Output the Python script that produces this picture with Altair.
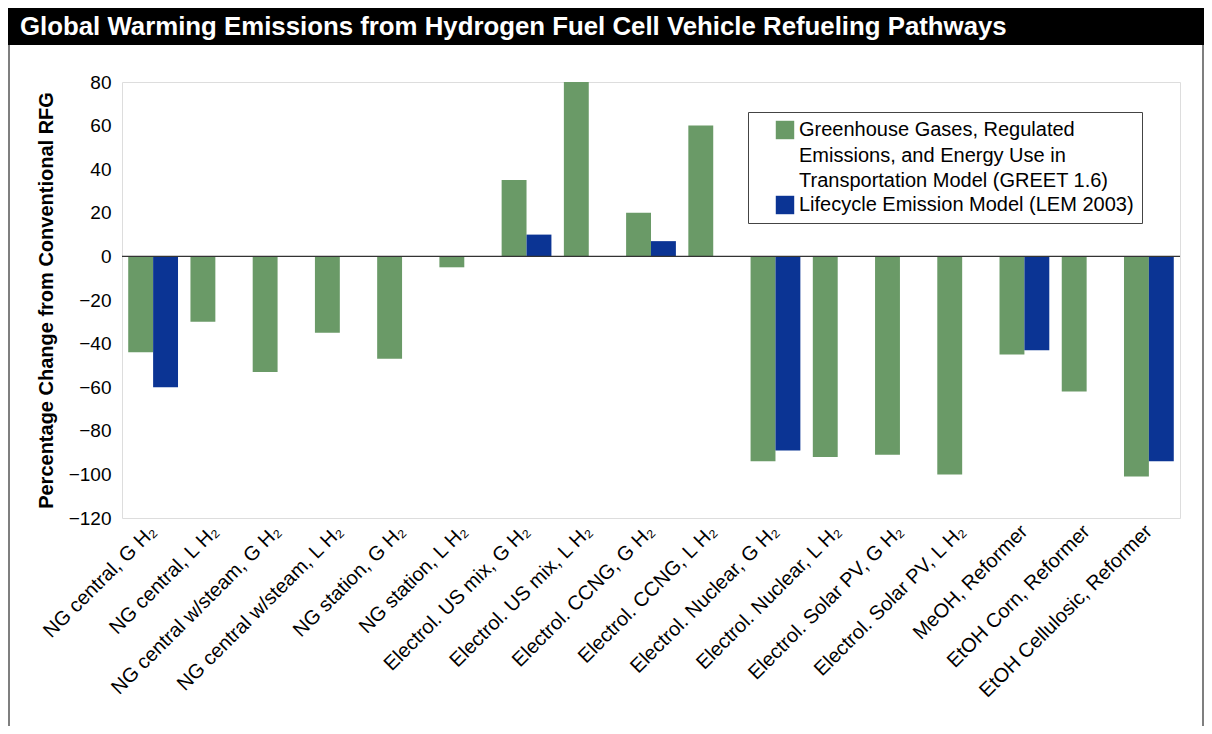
import altair as alt
import pandas as pd

TITLE = "Global Warming Emissions from Hydrogen Fuel Cell Vehicle Refueling Pathways"
Y_TITLE = "Percentage Change from Conventional RFG"

categories = [
    "NG central, G H₂",
    "NG central, L H₂",
    "NG central w/steam, G H₂",
    "NG central w/steam, L H₂",
    "NG station, G H₂",
    "NG station, L H₂",
    "Electrol. US mix, G H₂",
    "Electrol. US mix, L H₂",
    "Electrol. CCNG, G H₂",
    "Electrol. CCNG, L H₂",
    "Electrol. Nuclear, G H₂",
    "Electrol. Nuclear, L H₂",
    "Electrol. Solar PV, G H₂",
    "Electrol. Solar PV, L H₂",
    "MeOH, Reformer",
    "EtOH Corn, Reformer",
    "EtOH Cellulosic, Reformer",
]
greet = [-44, -30, -53, -35, -47, -5, 35, 80, 20, 60, -94, -92, -91, -100, -45, -62, -101]
lem = [-60, None, None, None, None, None, 10, None, 7, None, -89, None, None, None, -43, None, -94]

series_names = [
    "Greenhouse Gases, Regulated|Emissions, and Energy Use in|Transportation Model (GREET 1.6)",
    "Lifecycle Emission Model (LEM 2003)",
]
series_colors = ["#6a9a67", "#0b3494"]
y_ticks = [-120, -100, -80, -60, -40, -20, 0, 20, 40, 60, 80]

rows = []
for c, g, l in zip(categories, greet, lem):
    rows.append({"cat": c, "series": series_names[0], "value": g})
    if l is not None:
        rows.append({"cat": c, "series": series_names[1], "value": l})
df = pd.DataFrame(rows)

FONT = "Liberation Sans"

bars = alt.Chart(df).mark_bar().encode(
    x=alt.X(
        "cat:N",
        sort=categories,
        scale=alt.Scale(paddingInner=0.2, paddingOuter=0.1),
        axis=alt.Axis(
            title=None, labelAngle=-45, labelAlign="right", labelBaseline="middle",
            labelFontSize=20, labelFont=FONT, labelColor="black", labelLimit=0,
            labelPadding=10, ticks=False, domain=False,
        ),
    ),
    xOffset=alt.XOffset("series:N", sort=series_names, scale=alt.Scale(domain=series_names, paddingInner=0)),
    y=alt.Y(
        "value:Q",
        scale=alt.Scale(domain=[-120, 80], nice=False),
        axis=alt.Axis(
            title=Y_TITLE, values=y_ticks, grid=False, ticks=False, domain=False,
            labelFontSize=19, labelFont=FONT, labelColor="black", labelPadding=11,
            titleFontSize=20, titleFont=FONT, titleFontWeight="bold", titleColor="black",
            titlePadding=12,
        ),
    ),
    color=alt.Color(
        "series:N",
        scale=alt.Scale(domain=series_names, range=series_colors),
        legend=alt.Legend(
            title=None, orient="none", legendX=626, legendY=30,
            strokeColor="#444", fillColor="white", padding=8,
            symbolType="square", symbolSize=340, symbolStrokeWidth=0, symbolOffset=19,
            labelFontSize=20, labelFont=FONT, labelColor="black", labelLimit=0,
            labelExpr="split(datum.label, '|')", rowPadding=3, labelOffset=4,
        ),
    ),
)

zero = alt.Chart(pd.DataFrame({"value": [0]})).mark_rule(color="#333", strokeWidth=1.2).encode(
    y=alt.Y("value:Q")
)

title_df = pd.DataFrame({"t": [TITLE]})
header_rect = alt.Chart(title_df).mark_rect(color="black").encode(
    x=alt.value(-114), x2=alt.value(1082), y=alt.value(-74), y2=alt.value(-37)
)
header_text = alt.Chart(title_df).mark_text(
    color="white", fontSize=25.8, fontWeight="bold", font=FONT, align="left", baseline="middle"
).encode(x=alt.value(-102), y=alt.value(-55), text="t:N")

frame_left = alt.Chart(title_df).mark_rule(color="#555", strokeWidth=1.5).encode(
    x=alt.value(-113), y=alt.value(-37), y2=alt.value(644)
)
frame_right = alt.Chart(title_df).mark_rule(color="#555", strokeWidth=1.5).encode(
    x=alt.value(1081), y=alt.value(-37), y2=alt.value(644)
)

chart = alt.layer(header_rect, header_text, frame_left, frame_right, bars, zero).properties(
    width=1058,
    height=436,
    autosize=alt.AutoSizeParams(type="none"),
    padding={"left": 114, "top": 74, "right": 24, "bottom": 208},
).configure_view(
    stroke="#777", strokeWidth=1.5
).configure(
    style={"guide-label": {"lineHeight": 25.7}}
)

chart.save("out.html", embed_options={"renderer": "svg", "actions": False})
